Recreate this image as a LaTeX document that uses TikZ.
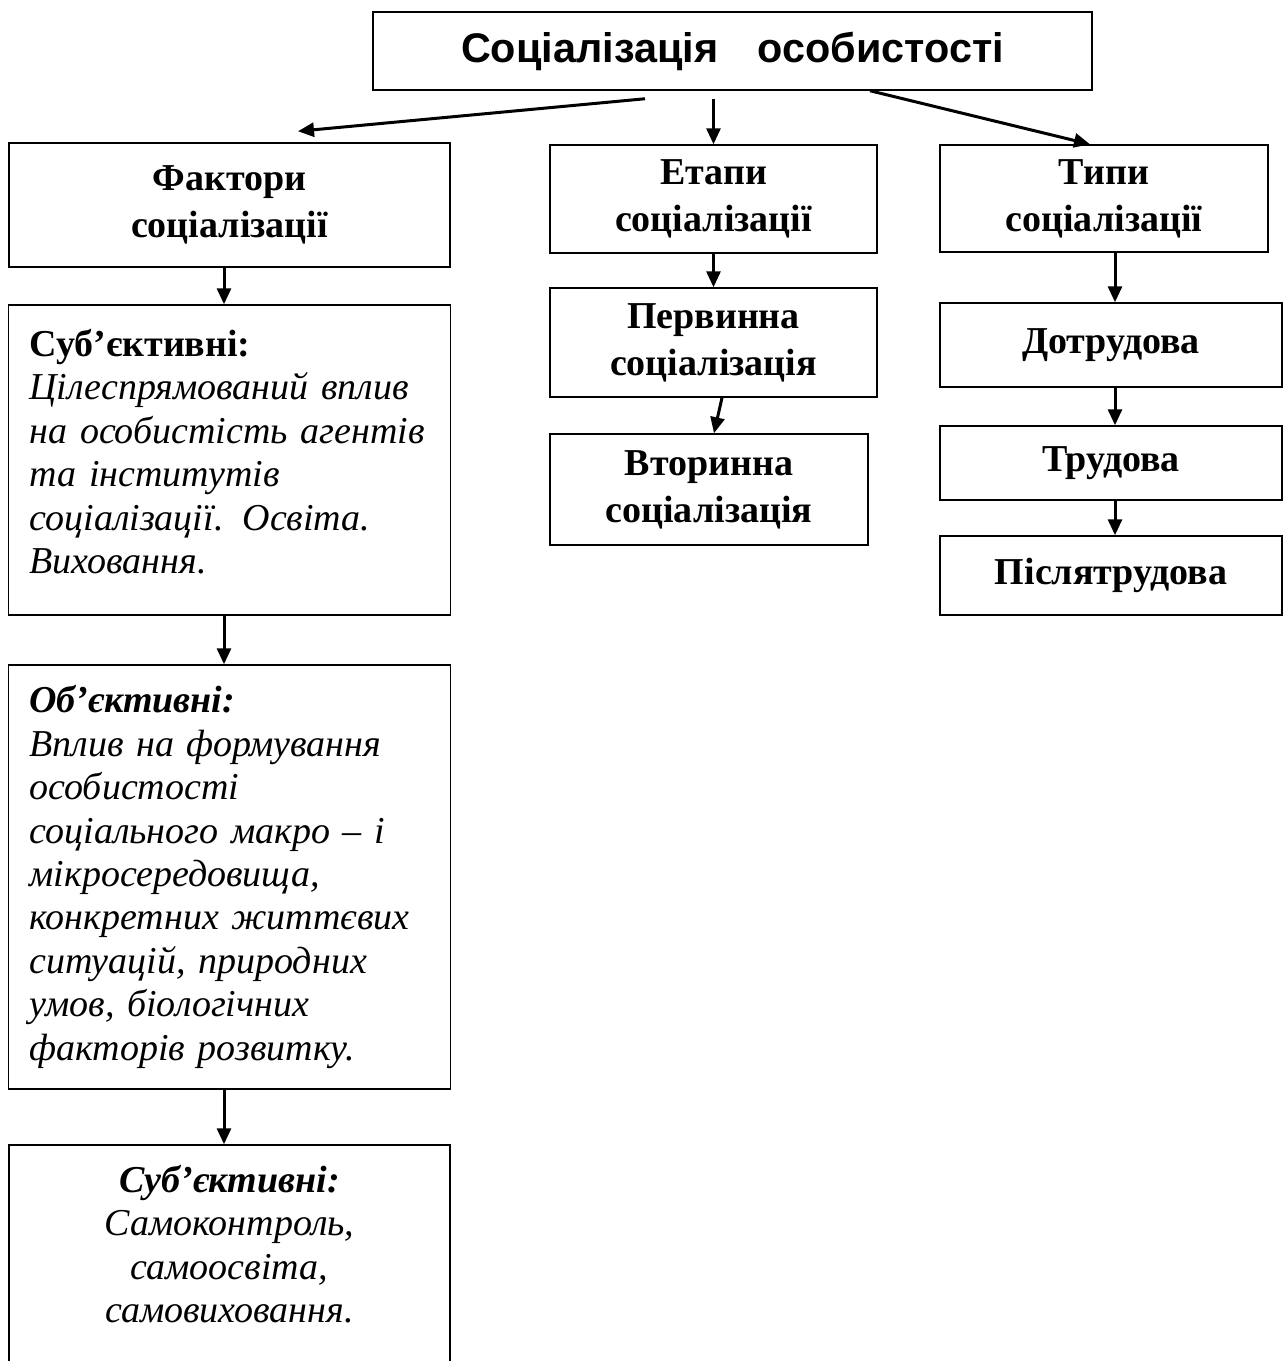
\documentclass[tikz,border=0pt]{standalone}
\usepackage{fontspec}
\setmainfont{Liberation Serif}
\newfontfamily\titlefont{Liberation Sans}
\usepackage{tikz}
\usetikzlibrary{arrows.meta}

\tikzset{
  box/.style={draw, line width=0.75pt, rectangle, inner sep=0pt, align=center,
    font=\fontsize{19}{23.5}\selectfont\bfseries},
  leftbox/.style={box, align=left, text width=200pt, inner xsep=10.5pt,
    font=\fontsize{19}{21.7}\selectfont\itshape},
  txt/.style={align=center, inner sep=0pt, font=\fontsize{19}{21.7}\selectfont\itshape},
  arr/.style={-{Triangle[length=8pt,width=7pt]}, line width=1.5pt}
}

\begin{document}
\begin{tikzpicture}[x=0.5pt,y=-0.5pt]
\useasboundingbox (0,0) rectangle (1283,1361);
% Top box
\node[box, minimum width=359.5pt, minimum height=39pt,
  font=\titlefont\fontsize{20.7}{22}\selectfont\bfseries] (title) at (732.5,51)
  {Соціалізація\hspace{0.95em}особистості};
% Left column: factors
\node[box, minimum width=220.5pt, minimum height=62pt] (fak) at (229.5,205) {Фактори\\соціалізації};
\node[leftbox, minimum height=155pt] (subj) at (229.5,460)
  {{\upshape\bfseries Суб’єктивні:}\\Цілеспрямований вплив\\на особистість агентів\\та інститутів\\соціалізації. Освіта.\\Виховання.\\[-13pt]\mbox{}};
\node[leftbox, minimum height=212pt] (obj) at (229.5,877)
  {{\bfseries Об’єктивні:}\\Вплив на формування\\особистості\\соціального макро – і\\мікросередовища,\\конкретних життєвих\\ситуацій, природних\\умов, біологічних\\факторів розвитку.};
\node[box, minimum width=220.5pt, minimum height=117.5pt] (self) at (229.5,1262.5) {};
\node[txt] (selftxt) at (229.5,1244)
  {{\bfseries Суб’єктивні:}\\Самоконтроль,\\самоосвіта,\\самовиховання.};
% Middle column: stages
\node[box, minimum width=163.5pt, minimum height=54pt] (etap) at (713.5,199) {Етапи\\соціалізації};
\node[box, minimum width=163.5pt, minimum height=54.5pt] (perv) at (713.5,342.5) {Первинна\\соціалізація};
\node[box, minimum width=159pt, minimum height=55.5pt] (vtor) at (709,489.5) {Вторинна\\соціалізація};
% Right column: types
\node[box, minimum width=164pt, minimum height=53.5pt] (typy) at (1104,198.5) {Типи\\соціалізації};
\node[box, minimum width=171pt, minimum height=42pt] (dotr) at (1111,345) {Дотрудова};
\node[box, minimum width=171pt, minimum height=37pt] (trud) at (1111,463) {Трудова};
\node[box, minimum width=171pt, minimum height=39.5pt] (pisl) at (1111,575.5) {Післятрудова};
% Arrows
\draw[arr] ([xshift=-43.75pt,yshift=-4pt]title.south) -- ([xshift=34.25pt,yshift=5.5pt]fak.north);
\draw[arr] ([yshift=-4pt]title.south -| etap.north) -- (etap.north);
\draw[arr] ([xshift=68.75pt]title.south) -- ([xshift=-7pt]typy.north);
\draw[arr] ([xshift=-2.75pt]fak.south) -- ([xshift=-2.75pt]subj.north);
\draw[arr] ([xshift=-2.75pt]subj.south) -- ([xshift=-2.75pt]obj.north);
\draw[arr] ([xshift=-2.75pt]obj.south) -- ([xshift=-2.75pt]self.north);
\draw[arr] (etap.south) -- (perv.north);
\draw[arr] ([xshift=4.25pt]perv.south) -- ([xshift=2.5pt]vtor.north);
\draw[arr] ([xshift=2pt]dotr.north |- typy.south) -- ([xshift=2pt]dotr.north);
\draw[arr] ([xshift=2pt]dotr.south) -- ([xshift=2pt]trud.north);
\draw[arr] ([xshift=2pt]trud.south) -- ([xshift=2pt]pisl.north);
\end{tikzpicture}
\end{document}
